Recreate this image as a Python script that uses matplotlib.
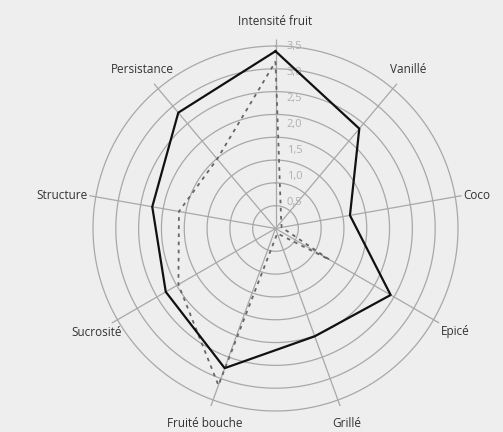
import numpy as np
import matplotlib
matplotlib.use("Agg")
import matplotlib.pyplot as plt

categories = ["Intensité fruit", "Vanillé", "Coco", "Epicé", "Grillé",
              "Fruité bouche", "Sucrosité", "Structure", "Persistance"]
series_solid = [3.4, 2.5, 1.45, 2.55, 2.2, 2.85, 2.43, 2.4, 2.9]
series_dashed = [3.2, 0.17, 0.12, 1.2, 0.1, 3.2, 2.15, 1.88, 1.74]
tick_values = [0.5, 1.0, 1.5, 2.0, 2.5, 3.0, 3.5]
tick_labels = ["0,5", "1,0", "1,5", "2,0", "2,5", "3,0", "3,5"]

plt.rcParams['font.family'] = ['Open Sans', 'DejaVu Sans']

W, H = 503, 432
fig = plt.figure(figsize=(W / 100, H / 100), dpi=100)
bg = "#eeeeee"
fig.patch.set_facecolor(bg)

cx, cy = 275.5, 228.5
rpx = 189.0
vmax = 3.5
rlim = vmax * 189.0 / 182.5
ax = fig.add_axes([(cx - rpx) / W, (H - cy - rpx) / H, 2 * rpx / W, 2 * rpx / H],
                  projection="polar")
ax.set_facecolor(bg)
ax.set_theta_zero_location("N")
ax.set_theta_direction(-1)
ax.set_ylim(0, rlim)
ax.grid(False)
ax.spines["polar"].set_visible(False)
ax.set_xticks([])
ax.set_yticks([])
ax.patch.set_alpha(0)

n = len(categories)
angles = np.arange(n) * 2 * np.pi / n
grid_col = "#a8a8a8"

# rings
th = np.linspace(0, 2 * np.pi, 400)
for k in range(1, 9):
    ax.plot(th, np.full_like(th, vmax * k / 8), color=grid_col, lw=0.9, zorder=1)
# spokes
for a in angles:
    ax.plot([a, a], [0, rlim], color=grid_col, lw=0.9, zorder=1)

# series
a_closed = np.append(angles, angles[0])
ax.plot(a_closed, np.append(series_dashed, series_dashed[0]), color="#666666",
        lw=1.3, linestyle=(0, (2, 2.5)), zorder=3)
ax.plot(a_closed, np.append(series_solid, series_solid[0]), color="#111111",
        lw=1.6, zorder=4)

# tick labels
for v, lab in zip(tick_values, tick_labels):
    ax.annotate(lab, xy=(0, v), xytext=(8, 0), textcoords="offset points",
                ha="left", va="center", fontsize=8, color="#b0b0b0", zorder=2)

# category labels
for a, lab in zip(angles, categories):
    s, c = np.sin(a), np.cos(a)
    if abs(s) > 0.9:
        ha = "left" if s > 0 else "right"
        ax.text(a, rlim * 1.01, lab, ha=ha, va="center", fontsize=8.5,
                color="#333333", clip_on=False)
    else:
        ax.text(a, vmax * 207 / 182.5, lab, ha="center", va="center",
                fontsize=8.5, color="#333333", clip_on=False)

fig.savefig("out.png", dpi=100, facecolor=bg)
